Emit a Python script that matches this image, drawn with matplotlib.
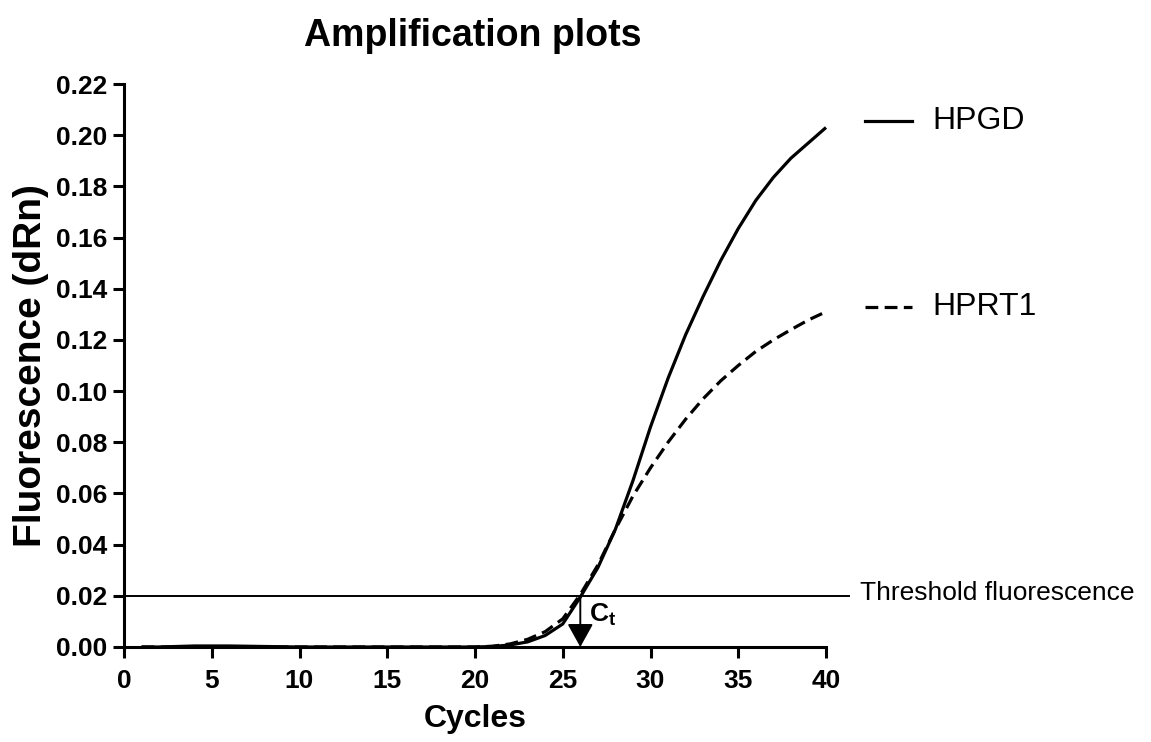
import matplotlib
matplotlib.use("Agg")
import matplotlib.pyplot as plt
from matplotlib.lines import Line2D

# ---- data ----
cycles = list(range(1, 41))
hpgd = [0.0, 0.0, 0.0002, 0.0004, 0.0004, 0.0004, 0.0003, 0.0002, 0.0001, 0.0,
        0.0, 0.0, 0.0, 0.0, 0.0, 0.0, 0.0, 0.0, 0.0, 0.0,
        0.0002, 0.0008, 0.0020, 0.0045, 0.0090, 0.0195, 0.031, 0.046, 0.065, 0.086,
        0.105, 0.122, 0.137, 0.151, 0.1635, 0.1745, 0.1835, 0.191, 0.197, 0.203]
hprt1 = [0.0, 0.0, 0.0, 0.0, 0.0, 0.0, 0.0, 0.0, 0.0, 0.0,
         0.0, 0.0, 0.0, 0.0, 0.0, 0.0, 0.0, 0.0, 0.0, 0.0,
         0.0003, 0.0012, 0.0030, 0.0060, 0.0110, 0.0205, 0.032, 0.046, 0.059, 0.070,
         0.080, 0.089, 0.097, 0.104, 0.110, 0.1155, 0.120, 0.124, 0.1278, 0.131]
series_names = ["HPGD", "HPRT1"]
threshold = 0.02
ct = 26
xticks = [0, 5, 10, 15, 20, 25, 30, 35, 40]
yticks = [0.00, 0.02, 0.04, 0.06, 0.08, 0.10, 0.12, 0.14, 0.16, 0.18, 0.20, 0.22]

plt.rcParams['font.family'] = ['Liberation Sans', 'DejaVu Sans']
plt.rcParams['mathtext.fontset'] = 'custom'
plt.rcParams['mathtext.rm'] = 'Liberation Sans'
plt.rcParams['mathtext.it'] = 'Liberation Sans:bold'
plt.rcParams['mathtext.bf'] = 'Liberation Sans:bold'

W, H = 1151, 742
fig = plt.figure(figsize=(W / 100, H / 100), dpi=100)
ax = fig.add_axes([124 / W, 1 - 647 / H, (826 - 124) / W, (647 - 84) / H])

lw = 2.3
ax.plot(cycles, hpgd, color='black', lw=lw, solid_capstyle='butt', clip_on=False, zorder=3)
ax.plot(cycles, hprt1, color='black', lw=lw, linestyle=(0, (4, 2)), clip_on=False, zorder=3)

# threshold line extending past the axis
ax.plot([0, 41.3], [threshold, threshold], color='black', lw=1.4, clip_on=False, zorder=2)
ax.text(860 / W, 1 - 593 / H, "Threshold fluorescence", transform=fig.transFigure,
        fontsize=19, ha='left', va='center')

# Ct arrow
ax.annotate('', xy=(ct, 0), xytext=(ct, threshold),
            arrowprops=dict(arrowstyle='-|>,head_length=0.9,head_width=0.5',
                            mutation_scale=16, color='black', lw=1.4,
                            shrinkA=0, shrinkB=0), zorder=4)
ax.text(ct + 0.5, 0.0098, r'$\mathbf{C_t}$', fontsize=19, ha='left', va='baseline')

ax.set_xlim(0, 40)
ax.set_ylim(0, 0.22)
ax.set_xticks(xticks)
ax.set_xticklabels([str(v) for v in xticks])
ax.set_yticks(yticks)
ax.set_yticklabels([f"{v:.2f}" for v in yticks])
for s in ['top', 'right']:
    ax.spines[s].set_visible(False)
for s in ['left', 'bottom']:
    ax.spines[s].set_linewidth(2.2)
ax.tick_params(axis='both', direction='out', length=8, width=2.2, labelsize=19, pad=4)
for lab in ax.get_xticklabels() + ax.get_yticklabels():
    lab.set_fontweight('bold')
ax.tick_params(axis='x', pad=8)

ax.set_xlabel("Cycles", fontsize=23, fontweight='bold', labelpad=8)
ax.set_ylabel("Fluorescence (dRn)", fontsize=28, fontweight='bold', labelpad=5)

fig.text(473 / W, 1 - 36 / H, "Amplification plots", fontsize=27, fontweight='bold',
         ha='center', va='center')

# legend drawn manually
leg_y = [121, 307]
styles = ['-', (0, (4, 2))]
for name, y, st in zip(series_names, leg_y, styles):
    fig.add_artist(Line2D([865 / W, 912 / W], [1 - y / H, 1 - y / H], color='black',
                          lw=lw, linestyle=st, transform=fig.transFigure))
    fig.text(932 / W, 1 - y / H, name, fontsize=23, ha='left', va='center')

fig.savefig("out.png", dpi=100)
